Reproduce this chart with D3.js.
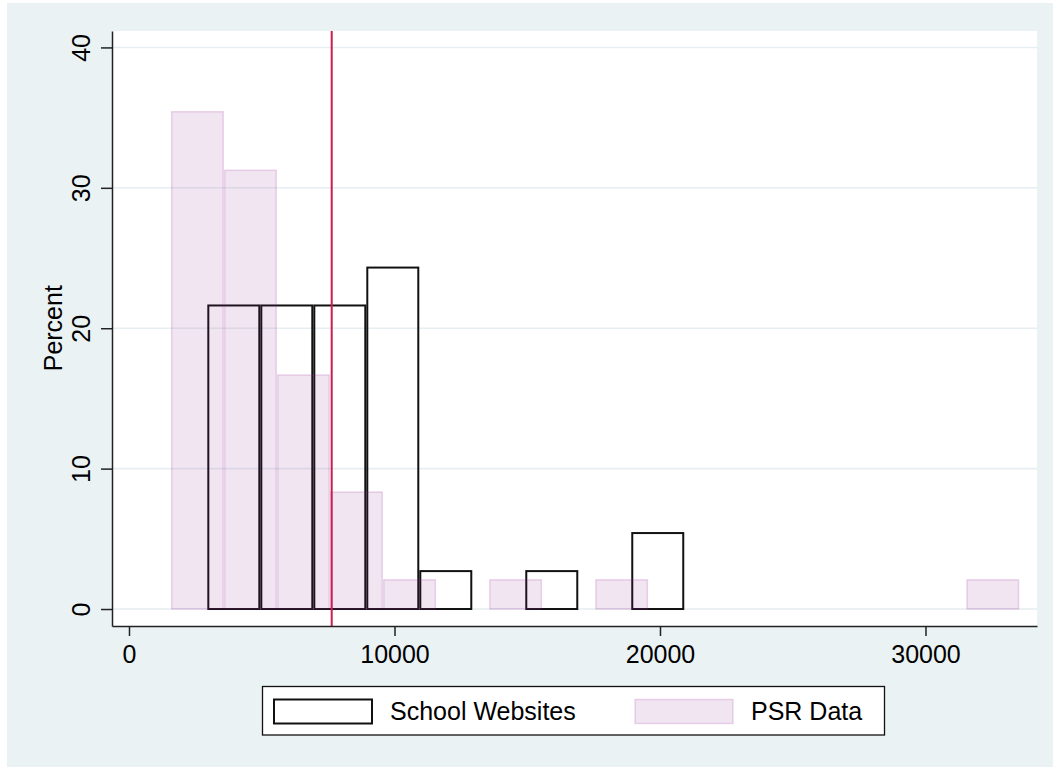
<!DOCTYPE html>
<html>
<head>
<meta charset="utf-8">
<script src="https://cdn.jsdelivr.net/npm/d3@7"></script>
<style>
  body { margin: 0; background: #fff; }
  svg { display: block; font-family: "Liberation Sans", Arial, Helvetica, sans-serif; }
</style>
</head>
<body>
<div id="main"></div>
<script>
var width = 1053,
    height = 767;

// histogram bins (percent)
var schoolStart = 2950,
    schoolWidth = 1996;
var schoolPct = [21.62, 21.62, 21.62, 24.32, 2.70, 0, 2.70, 0, 5.41];

var psrStart = 1580,
    psrWidth = 1997;
var psrPct = [35.42, 31.25, 16.67, 8.33, 2.08, 0, 2.08, 0, 2.08, 0, 0, 0, 0, 0, 0, 2.08];

var refLine = 7635;

var xTicks = [0, 10000, 20000, 30000];
var yTicks = [0, 10, 20, 30, 40];
var legendLabels = ["School Websites", "PSR Data"];

var plot = { left: 112, right: 1037, top: 31, bottom: 626 };

var svg = d3.select("#main").append("svg")
    .attr("width", width)
    .attr("height", height);

// outer background
svg.append("rect")
    .attr("x", 7).attr("y", 3)
    .attr("width", width - 7).attr("height", height - 3)
    .attr("fill", "#eaf2f3");

svg.append("rect")
    .attr("x", plot.left).attr("y", plot.top)
    .attr("width", plot.right - plot.left).attr("height", plot.bottom - plot.top)
    .attr("fill", "#fff");

var x = d3.scaleLinear().domain([-640, 34200]).range([plot.left, plot.right]);
var y = d3.scaleLinear().domain([-1.21, 41.17]).range([plot.bottom, plot.top]);

// gridlines
svg.append("g").selectAll("line")
    .data(yTicks)
    .enter().append("line")
    .attr("x1", plot.left).attr("x2", plot.right)
    .attr("y1", function(d) { return y(d); })
    .attr("y2", function(d) { return y(d); })
    .attr("stroke", "#e6eef1")
    .attr("stroke-width", 1.6);

function bins(start, w, vals) {
    return vals.map(function(v, i) { return { x0: start + i * w, x1: start + (i + 1) * w, v: v }; })
        .filter(function(d) { return d.v > 0; });
}

// school websites: outlined bars
svg.append("g").selectAll("rect")
    .data(bins(schoolStart, schoolWidth, schoolPct))
    .enter().append("rect")
    .attr("x", function(d) { return x(d.x0) + 1; })
    .attr("width", function(d) { return x(d.x1) - x(d.x0) - 2; })
    .attr("y", function(d) { return y(d.v); })
    .attr("height", function(d) { return y(0) - y(d.v); })
    .attr("fill", "none")
    .attr("stroke", "#111")
    .attr("stroke-width", 2);

// PSR data: translucent purple bars on top
svg.append("g").selectAll("rect")
    .data(bins(psrStart, psrWidth, psrPct))
    .enter().append("rect")
    .attr("x", function(d) { return x(d.x0) + 0.75; })
    .attr("width", function(d) { return x(d.x1) - x(d.x0) - 1.5; })
    .attr("y", function(d) { return y(d.v); })
    .attr("height", function(d) { return y(0) - y(d.v); })
    .attr("fill", "rgba(150,40,150,0.12)")
    .attr("stroke", "rgba(150,40,150,0.18)")
    .attr("stroke-width", 1.5);

// reference line
svg.append("line")
    .attr("x1", x(refLine)).attr("x2", x(refLine))
    .attr("y1", plot.top).attr("y2", plot.bottom)
    .attr("stroke", "#c91e4d")
    .attr("stroke-width", 2);

// axes
var xAxis = svg.append("g")
    .attr("transform", `translate(0,${plot.bottom})`)
    .call(d3.axisBottom(x).tickValues(xTicks).tickFormat(d3.format("d")).tickSize(10).tickSizeOuter(0));

xAxis.select(".domain").attr("stroke", "#222").attr("stroke-width", 1.5);
xAxis.selectAll(".tick line").attr("stroke", "#222").attr("stroke-width", 1.5);
xAxis.selectAll(".tick text")
    .attr("y", 37).attr("dy", 0)
    .attr("font-size", 25)
    .attr("font-family", "Liberation Sans, Arial, sans-serif")
    .attr("fill", "#000");

var yAxis = svg.append("g")
    .attr("transform", `translate(${plot.left},0)`)
    .call(d3.axisLeft(y).tickValues(yTicks).tickSize(11).tickSizeOuter(0));

yAxis.select(".domain").attr("stroke", "#222").attr("stroke-width", 1.5);
yAxis.selectAll(".tick line").attr("stroke", "#222").attr("stroke-width", 1.5);
yAxis.selectAll(".tick text")
    .attr("transform", "rotate(-90)")
    .attr("x", 0).attr("y", -22).attr("dy", 0)
    .attr("text-anchor", "middle")
    .attr("font-size", 25)
    .attr("font-family", "Liberation Sans, Arial, sans-serif")
    .attr("fill", "#000");

svg.append("text")
    .attr("transform", `translate(62,${y(20)}) rotate(-90)`)
    .attr("text-anchor", "middle")
    .attr("font-size", 25)
    .text("Percent");

// legend
var lg = svg.append("g");
lg.append("rect")
    .attr("x", 262.5).attr("y", 686.5)
    .attr("width", 622).attr("height", 48.5)
    .attr("fill", "#fff")
    .attr("stroke", "#111")
    .attr("stroke-width", 1.3);

var keyX = [274, 635],
    textX = [390, 751];

lg.selectAll(".key")
    .data(legendLabels)
    .enter().append("rect")
    .attr("class", "key")
    .attr("x", function(d, i) { return keyX[i]; })
    .attr("y", 699.5)
    .attr("width", 98).attr("height", 24)
    .attr("fill", function(d, i) { return i == 0 ? "none" : "rgba(150,40,150,0.12)"; })
    .attr("stroke", function(d, i) { return i == 0 ? "#111" : "rgba(150,40,150,0.18)"; })
    .attr("stroke-width", function(d, i) { return i == 0 ? 2 : 1.5; });

lg.selectAll(".lbl")
    .data(legendLabels)
    .enter().append("text")
    .attr("class", "lbl")
    .attr("x", function(d, i) { return textX[i]; })
    .attr("y", 720)
    .attr("font-size", 25)
    .text(function(d) { return d; });
</script>
</body>
</html>
